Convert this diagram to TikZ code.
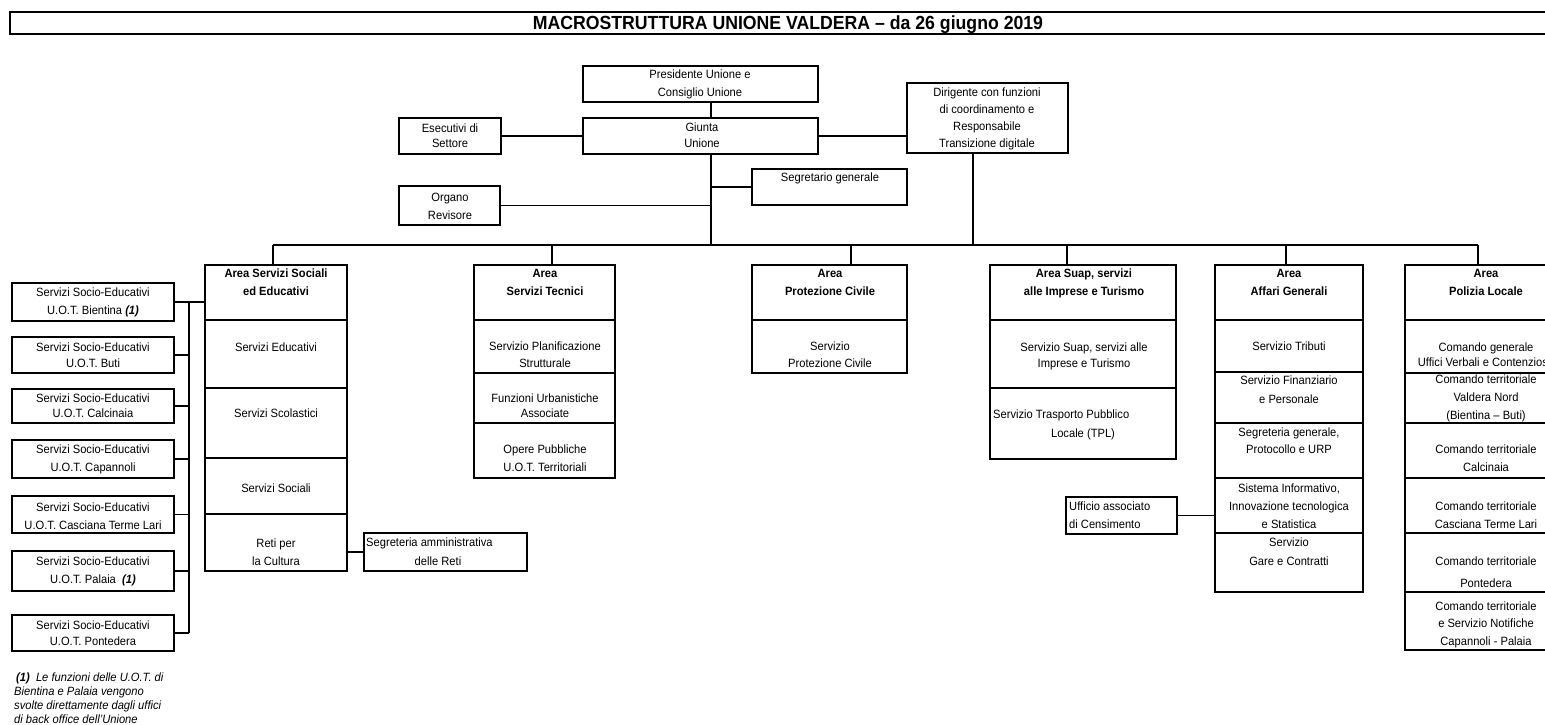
\documentclass[tikz,border=0pt]{standalone}
\usepackage{fontspec}
\setmainfont{Liberation Sans}[FakeStretch=0.93]
\newcommand\mkbox[5]{\node[box, minimum width={#4-#2}, minimum height={#5-#3}] (#1) at ({(#2+#4)/2},{(#3+#5)/2}) {};}
\tikzset{
  box/.style={draw, line width=2.7pt, inner sep=0pt, outer sep=0pt},
  conn/.style={line width=1.2pt},
  txt/.style={font=\fontsize{12}{#1}\selectfont, align=center, inner sep=0pt, anchor=north},
  txt/.default=17,
  hd/.style={txt=18, font=\fontsize{12}{18}\selectfont\bfseries},
  lft/.style={font=\fontsize{12}{#1}\selectfont, align=left, inner sep=0pt, anchor=north west},
  lft/.default=18,
}
\begin{document}
\begin{tikzpicture}[x=1pt,y=-1pt]
\path[use as bounding box] (0,0) rectangle (1545,725);
\clip (0,0) rectangle (1545,725);
% title
\node[draw, line width=2.6pt, inner sep=0pt, outer sep=0pt, minimum width=1560, minimum height=22] (title) at (790,23) {};
\node[font=\fontsize{19}{22}\selectfont\bfseries, inner sep=0pt, anchor=base] (title-t) at (788,29.6) {MACROSTRUTTURA UNIONE VALDERA – da 26 giugno 2019};
% top boxes
\mkbox{pres}{583}{66}{818}{102}
\mkbox{giunta}{583}{118}{818}{154}
\mkbox{esec}{399}{118}{501}{154}
\mkbox{org}{399}{186}{500}{225}
\mkbox{segr}{752}{169}{907}{205}
\mkbox{dir}{907}{83}{1068}{153}
\node[txt=18] (pres-t) at (700,69.5) {Presidente Unione e\\Consiglio Unione};
\node[txt=16] (giunta-t) at (702,122.5) {Giunta\\Unione};
\node[txt=15] (esec-t) at (450,123.5) {Esecutivi di\\Settore};
\node[txt=18] (org-t) at (450,192.5) {Organo\\Revisore};
\node[txt] (segr-t) at (830,172.5) {Segretario generale};
\node[txt=17] (dir-t) at (987,87.5) {Dirigente con funzioni\\di coordinamento e\\Responsabile\\Transizione digitale};
% area Sociali
\mkbox{s0}{205}{265}{347}{320}
\mkbox{s1}{205}{320}{347}{388}
\mkbox{s2}{205}{388}{347}{458}
\mkbox{s3}{205}{458}{347}{514}
\mkbox{s4}{205}{514}{347}{571}
\node[hd] (s0-t) at (276,268.5) {Area Servizi Sociali\\ed Educativi};
\node[txt] (s1-t) at (276,342.5) {Servizi Educativi};
\node[txt] (s2-t) at (276,408.5) {Servizi Scolastici};
\node[txt] (s3-t) at (276,483.5) {Servizi Sociali};
\node[txt=18] (s4-t) at (276,538.5) {Reti per\\la Cultura};
% area Tecnici
\mkbox{t0}{474}{265}{615}{320}
\mkbox{t1}{474}{320}{615}{373}
\mkbox{t2}{474}{373}{615}{423}
\mkbox{t3}{474}{423}{615}{478}
\node[hd] (t0-t) at (545,269.5) {Area\\Servizi Tecnici};
\node[txt=17] (t1-t) at (545,341.5) {Servizio Planificazione\\Strutturale};
\node[txt=15] (t2-t) at (545,393.5) {Funzioni Urbanistiche\\Associate};
\node[txt=18] (t3-t) at (545,444.5) {Opere Pubbliche\\U.O.T. Territoriali};
% area Protezione
\mkbox{p0}{752}{265}{907}{320}
\mkbox{p1}{752}{320}{907}{373}
\node[hd] (p0-t) at (830,269.5) {Area\\Protezione Civile};
\node[txt=17] (p1-t) at (830,341.5) {Servizio\\Protezione Civile};
% area Suap
\mkbox{u0}{990}{265}{1176}{320}
\mkbox{u1}{990}{320}{1176}{388}
\mkbox{u2}{990}{388}{1176}{459}
\node[hd] (u0-t) at (1084,268.5) {Area Suap, servizi\\alle Imprese e Turismo};
\node[txt=16] (u1-t) at (1084,342.5) {Servizio Suap, servizi alle\\Imprese e Turismo};
\node[lft] (u2-t) at (993,409.5) {Servizio Trasporto Pubblico};
\node[txt] (u2-t2) at (1083,428.5) {Locale (TPL)};
% area Affari Generali
\mkbox{a0}{1215}{265}{1363}{320}
\mkbox{a1}{1215}{320}{1363}{372}
\mkbox{a2}{1215}{372}{1363}{423}
\mkbox{a3}{1215}{423}{1363}{478}
\mkbox{a4}{1215}{478}{1363}{533}
\mkbox{a5}{1215}{533}{1363}{592}
\node[hd] (a0-t) at (1289,269.5) {Area\\Affari Generali};
\node[txt] (a1-t) at (1289,341.5) {Servizio Tributi};
\node[txt=19] (a2-t) at (1289,375.5) {Servizio Finanziario\\e Personale};
\node[txt=17] (a3-t) at (1289,427.5) {Segreteria generale,\\Protocollo e URP};
\node[txt=18] (a4-t) at (1289,483.5) {Sistema Informativo,\\Innovazione tecnologica\\e Statistica};
\node[txt=19] (a5-t) at (1289,537.5) {Servizio\\Gare e Contratti};
% area Polizia Locale
\mkbox{l0}{1405}{265}{1567}{320}
\mkbox{l1}{1405}{320}{1567}{373}
\mkbox{l2}{1405}{373}{1567}{423}
\mkbox{l3}{1405}{423}{1567}{478}
\mkbox{l4}{1405}{478}{1567}{533}
\mkbox{l5}{1405}{533}{1567}{592}
\mkbox{l6}{1405}{592}{1567}{650}
\node[hd] (l0-t) at (1486,269.5) {Area\\Polizia Locale};
\node[txt=15] (l1-t) at (1486,342.5) {Comando generale\\Uffici Verbali e Contenzioso};
\node[txt=18] (l2-t) at (1486,374.5) {Comando territoriale\\Valdera Nord\\(Bientina – Buti)};
\node[txt=18] (l3-t) at (1486,444.5) {Comando territoriale\\Calcinaia};
\node[txt=18] (l4-t) at (1486,501.5) {Comando territoriale\\Casciana Terme Lari};
\node[txt=22] (l5-t) at (1486,556.5) {Comando territoriale\\Pontedera};
\node[txt=17.5] (l6-t) at (1486,601.5) {Comando territoriale\\e Servizio Notifiche\\Capannoli - Palaia};
% left column
\mkbox{L1}{12}{283}{174}{321}
\mkbox{L2}{12}{337}{174}{373}
\mkbox{L3}{12}{389}{174}{423}
\mkbox{L4}{12}{440}{174}{478}
\mkbox{L5}{12}{496}{174}{533}
\mkbox{L6}{12}{551}{174}{591}
\mkbox{L7}{12}{615}{174}{651}
\node[txt=18] (L1-t) at (93,287.5) {Servizi Socio-Educativi\\U.O.T. Bientina \textbf{\textit{(1)}}};
\node[txt=16] (L2-t) at (93,342.5) {Servizi Socio-Educativi\\U.O.T. Buti};
\node[txt=15] (L3-t) at (93,393.5) {Servizi Socio-Educativi\\U.O.T. Calcinaia};
\node[txt=18] (L4-t) at (93,444.5) {Servizi Socio-Educativi\\U.O.T. Capannoli};
\node[txt=18] (L5-t) at (93,502.5) {Servizi Socio-Educativi\\U.O.T. Casciana Terme Lari};
\node[txt=18] (L6-t) at (93,556.5) {Servizi Socio-Educativi\\U.O.T. Palaia\ \ \textbf{\textit{(1)}}};
\node[txt=16] (L7-t) at (93,620.5) {Servizi Socio-Educativi\\U.O.T. Pontedera};
% side boxes
\mkbox{samm}{364}{533}{527}{571}
\node[lft] (samm-t) at (366,537.5) {Segreteria amministrativa};
\node[txt] (samm-t2) at (438,556.5) {delle Reti};
\mkbox{uff}{1066}{497}{1177}{534}
\node[lft=18] (uff-t) at (1069,501.5) {Ufficio associato\\di Censimento};
% footnote
\node[lft=14, font=\fontsize{12}{14}\selectfont\itshape] (note) at (14,672.5) {\hspace{2pt}\textbf{(1)}\ \ Le funzioni delle U.O.T. di\\Bientina e Palaia vengono\\svolte direttamente dagli uffici\\di back office dell'Unione};
% connector coordinates
\coordinate (jG) at (711,245);
\coordinate (jD) at (973,245);
\coordinate (b1) at (273,245);
\coordinate (b2) at (552,245);
\coordinate (b3) at (851,245);
\coordinate (b4) at (1067,245);
\coordinate (b5) at (1286,245);
\coordinate (b6) at (1478,245);
\coordinate (lbus) at (189,0);
% connectors
\draw[conn] (pres.south -| jG) -- (giunta.north -| jG);
\draw[conn] (esec.east) -- (giunta.west);
\draw[conn] (giunta.east) -- (dir.west |- giunta.east);
\draw[conn] (giunta.south -| jG) -- (jG);
\draw[conn] (segr.west) -- (segr.west -| jG);
\draw[conn] (org.east) -- (org.east -| jG);
\draw[conn] (dir.south -| jD) -- (jD);
\draw[conn, line width=1.6pt] (b1) -- (b6);
\draw[conn] (b1) -- (s0.north -| b1);
\draw[conn] (b2) -- (t0.north -| b2);
\draw[conn] (b3) -- (p0.north -| b3);
\draw[conn] (b4) -- (u0.north -| b4);
\draw[conn] (b5) -- (a0.north -| b5);
\draw[conn] (b6) -- (l0.north -| b6);
\draw[conn] (L1.east) -- (s0.west |- L1.east);
\draw[conn] (lbus |- L1.east) -- (lbus |- L7.east);
\draw[conn] (L2.east) -- (lbus |- L2.east);
\draw[conn] (L3.east) -- (lbus |- L3.east);
\draw[conn] (L4.east) -- (lbus |- L4.east);
\draw[conn] (L5.east) -- (lbus |- L5.east);
\draw[conn] (L6.east) -- (lbus |- L6.east);
\draw[conn] (L7.east) -- (lbus |- L7.east);
\draw[conn] (samm.west) -- (samm.west -| s4.east);
\draw[conn] (uff.east) -- (uff.east -| a4.west);
\end{tikzpicture}
\end{document}
